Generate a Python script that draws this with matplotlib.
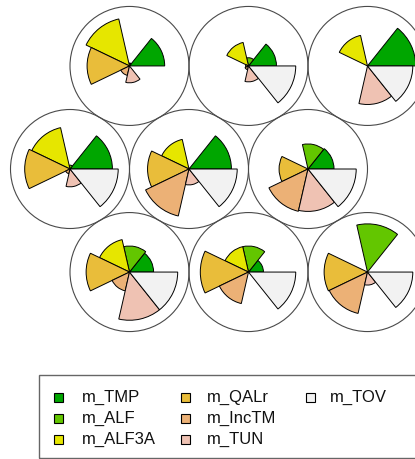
import numpy as np
import matplotlib
matplotlib.use("Agg")
import matplotlib.pyplot as plt
from matplotlib.patches import Wedge, Circle, Rectangle

variables = ["m_TMP", "m_ALF", "m_ALF3A", "m_QALr", "m_IncTM", "m_TUN", "m_TOV"]
colors = ["#00A600", "#63C600", "#E6E600", "#E9BD3A", "#ECB176", "#EFC2B3", "#F2F2F2"]

# hex-grid unit positions (column, row) ; row 1 = bottom
unit_col = [1.5, 2.5, 3.5, 1.0, 2.0, 3.0, 1.5, 2.5, 3.5]
unit_row = [1, 1, 1, 2, 2, 2, 3, 3, 3]

# scaled codebook values per unit (0..1), order as variables
codes_bottom_left  = [0.50, 0.54, 0.69, 0.90, 0.40, 1.00, 1.00]
codes_bottom_mid   = [0.31, 0.54, 0.54, 1.00, 0.67, 0.00, 0.98]
codes_bottom_right = [0.00, 1.00, 0.00, 0.90, 0.88, 0.27, 0.94]
codes_mid_left     = [0.88, 0.08, 0.88, 0.94, 0.10, 0.37, 1.00]
codes_mid_mid      = [0.88, 0.02, 0.63, 0.86, 1.00, 0.33, 1.00]
codes_mid_right    = [0.54, 0.52, 0.00, 0.60, 0.90, 0.88, 1.00]
codes_top_left     = [0.73, 0.06, 1.00, 0.88, 0.20, 0.35, 0.00]
codes_top_mid      = [0.58, 0.17, 0.50, 0.06, 0.08, 0.33, 0.98]
codes_top_right    = [1.00, 0.00, 0.65, 0.00, 0.00, 0.80, 0.94]

codes = [codes_bottom_left, codes_bottom_mid, codes_bottom_right,
         codes_mid_left, codes_mid_mid, codes_mid_right,
         codes_top_left, codes_top_mid, codes_top_right]

W, H = 415, 459
fig = plt.figure(figsize=(W / 100, H / 100), dpi=100)
plt.rcParams['font.family'] = ['Liberation Sans', 'DejaVu Sans']
ax = fig.add_axes([0, 0, 1, 1])
ax.set_axis_off()

px_per_unit = 119.0
# pixel mapping: col 1 -> x px 70 ; row 2 -> y px 169 (from top)
x0 = 1 - 70 / px_per_unit
x1 = 1 + (W - 70) / px_per_unit
ry = np.sqrt(3) / 2
y_mid = 2 * ry
y_top = y_mid + 169 / px_per_unit
y_bot = y_mid - (H - 169) / px_per_unit
ax.set_xlim(x0, x1)
ax.set_ylim(y_bot, y_top)
ax.set_aspect('equal')

seg = 360.0 / len(variables)
maxlen = 0.405
for c, r, vals in zip(unit_col, unit_row, codes):
    cy = r * ry
    ax.add_patch(Circle((c, cy), 0.5, fill=False, edgecolor='#4a4a4a', lw=0.8, zorder=1))
    for k, v in enumerate(vals):
        if v <= 0:
            continue
        ax.add_patch(Wedge((c, cy), v * maxlen, k * seg, (k + 1) * seg,
                           facecolor=colors[k], edgecolor='black', lw=0.7, zorder=2))

# legend
fig.patches.append(Rectangle((39 / W, 1 - 458 / H), 400 / W, 83 / H, transform=fig.transFigure,
                             fill=False, edgecolor='#666666', lw=1.0))
col_sq_x = [58, 185, 310]
col_tx_x = [82, 207, 330]
row_y = [397, 418, 439]
for i, (name, col) in enumerate(zip(variables, colors)):
    cidx = i // 3
    ridx = i % 3
    sq = 9
    fig.patches.append(Rectangle(((col_sq_x[cidx] - sq / 2) / W, 1 - (row_y[ridx] + sq / 2) / H),
                                 sq / W, sq / H, transform=fig.transFigure,
                                 facecolor=col, edgecolor='black', lw=0.8))
    fig.text(col_tx_x[cidx] / W, 1 - row_y[ridx] / H, name, fontsize=12,
             va='center', ha='left', color='#111111')

fig.savefig("out.png", dpi=100)
